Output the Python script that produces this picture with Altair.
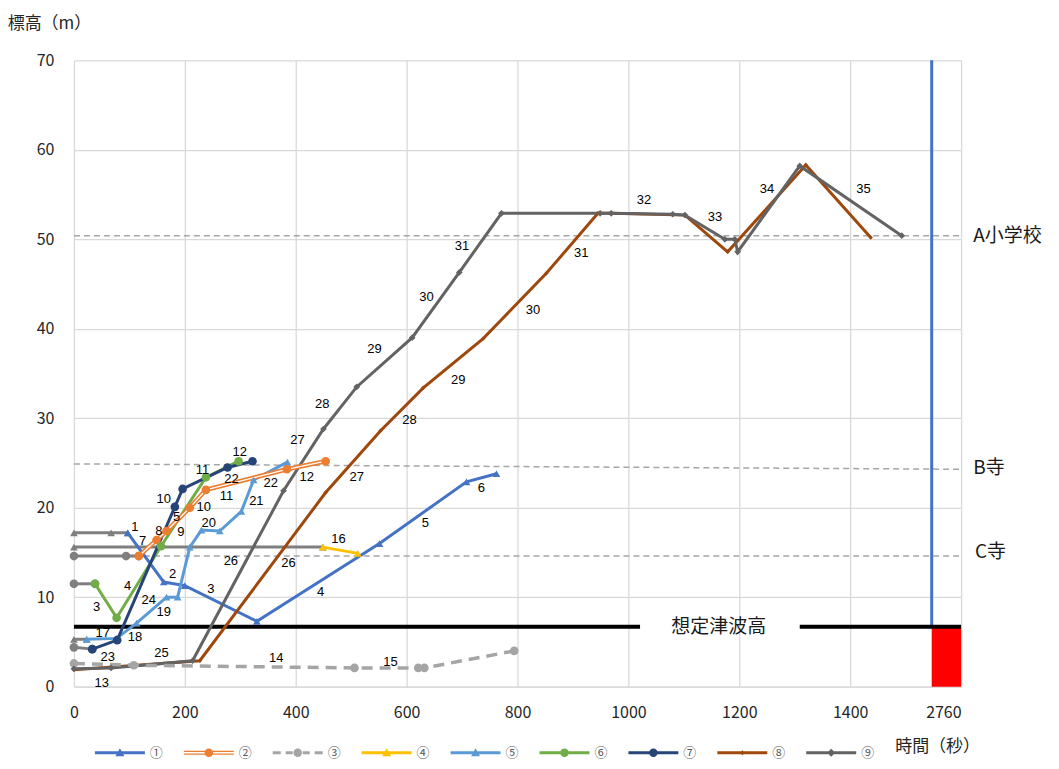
import altair as alt
import pandas as pd

SERIES = ["①", "②", "③", "④", "⑤", "⑥", "⑦", "⑧", "⑨"]
COLORS = ["#4472C4", "#ED7D31", "#A5A5A5", "#FFC000", "#5B9BD5",
          "#70AD47", "#264478", "#9E480E", "#636363"]
PREFIX_GRAY = "#7F7F7F"

# waiting (gray) part of each route: time (s), elevation (m)
S1_PRE_T = [0, 67, 97]
S1_PRE_H = [17.2, 17.2, 17.2]
S2_PRE_T = [0, 94, 117]
S2_PRE_H = [14.6, 14.6, 14.6]
S4_PRE_T = [0, 449]
S4_PRE_H = [15.6, 15.6]
S5_PRE_T = [0, 23]
S5_PRE_H = [5.3, 5.3]
S6_PRE_T = [0, 38]
S6_PRE_H = [11.5, 11.5]
S7_PRE_T = [0, 33]
S7_PRE_H = [4.4, 4.2]

# moving part of each route
S1_T = [97, 162, 200, 330, 551, 708, 762]
S1_H = [17.2, 11.7, 11.3, 7.3, 16.0, 22.9, 23.8]
S2_T = [117, 149, 167, 209, 238, 384, 454]
S2_H = [14.6, 16.4, 17.4, 20.0, 22.0, 24.3, 25.2]
S3_T = [0, 108, 506, 621, 632, 794]
S3_H = [2.6, 2.4, 2.1, 2.1, 2.1, 4.0]
S4_T = [449, 512]
S4_H = [15.6, 14.9]
S5_T = [23, 77, 113, 167, 187, 209, 230, 263, 302, 324, 385]
S5_H = [5.3, 5.4, 7.1, 10.0, 10.0, 15.6, 17.5, 17.4, 19.6, 23.1, 25.1]
S6_T = [38, 77, 157, 238, 297]
S6_H = [11.5, 7.7, 15.7, 23.4, 25.2]
S7_T = [33, 78, 182, 196, 277, 322]
S7_H = [4.2, 5.2, 20.1, 22.1, 24.5, 25.2]
S8_T = [0, 227, 454, 553, 630, 738, 852, 945, 969, 1102, 1179, 1320, 1437]
S8_H = [1.9, 2.9, 21.7, 28.6, 33.4, 38.9, 46.2, 52.9, 52.9, 52.7, 48.6, 58.3, 50.2]
S9_T = [0, 67, 214, 378, 450, 510, 610, 695, 771, 949, 969, 1080, 1102,
        1174, 1192, 1197, 1309, 1493]
S9_H = [2.0, 2.1, 2.9, 21.9, 28.8, 33.5, 39.0, 46.3, 52.9, 52.9, 52.9, 52.8,
        52.7, 50.0, 50.0, 48.6, 58.2, 50.4]

# segment number labels
LABEL_TEXT = ["1", "7", "8", "5", "9", "10", "10", "11", "11", "12", "22", "22",
              "12", "20", "21", "2", "3", "4", "3", "24", "19", "18", "17", "23",
              "25", "13", "14", "15", "16", "26", "26", "27", "27", "28", "28",
              "29", "29", "30", "30", "31", "31", "32", "33", "34", "35", "4",
              "5", "6"]
LABEL_T = [110, 124, 153, 185, 193, 162, 234, 232, 275, 299, 284, 355,
           420, 243, 329, 178, 247, 97, 41, 135, 162, 110, 52, 61,
           158, 50, 365, 571, 477, 283, 387, 403, 510, 448, 605,
           542, 693, 636, 828, 700, 915, 1028, 1156, 1250, 1424, 445,
           634, 735]
LABEL_H = [17.8, 16.3, 17.4, 19.0, 17.3, 21.0, 20.1, 24.2, 21.3, 26.2, 23.2, 22.8,
           23.4, 18.3, 20.8, 12.6, 10.9, 11.2, 8.9, 9.7, 8.4, 5.5, 6.0, 3.3,
           3.8, 0.4, 3.2, 2.8, 16.5, 14.0, 13.8, 27.6, 23.4, 31.6, 29.8,
           37.7, 34.3, 43.5, 42.1, 49.2, 48.5, 54.4, 52.5, 55.6, 55.6, 10.6,
           18.3, 22.2]

# reference (destination) levels
REF_NAMES = ["A小学校", "B寺", "C寺"]
REF_H_LEFT = [50.4, 24.9, 14.6]
REF_H_RIGHT = [50.4, 24.3, 14.6]
REF_LABEL_H = [50.35, 24.45, 15.1]
TSUNAMI_H = 6.7
TSUNAMI_TEXT = "想定津波高"
X_TICKS = [0, 200, 400, 600, 800, 1000, 1200, 1400, 1600]
X_MAX = 1600
LIMIT_T = 1547   # position of the "2760" limit marker

pre = {"①": (S1_PRE_T, S1_PRE_H), "②": (S2_PRE_T, S2_PRE_H), "④": (S4_PRE_T, S4_PRE_H),
       "⑤": (S5_PRE_T, S5_PRE_H), "⑥": (S6_PRE_T, S6_PRE_H), "⑦": (S7_PRE_T, S7_PRE_H)}
main = {"①": (S1_T, S1_H), "②": (S2_T, S2_H), "③": (S3_T, S3_H), "④": (S4_T, S4_H),
        "⑤": (S5_T, S5_H), "⑥": (S6_T, S6_H), "⑦": (S7_T, S7_H), "⑧": (S8_T, S8_H),
        "⑨": (S9_T, S9_H)}


def frame(d):
    rows = []
    for s, (ts, hs) in d.items():
        for i, (t, h) in enumerate(zip(ts, hs)):
            rows.append({"series": s, "t": t, "h": h, "i": i})
    return pd.DataFrame(rows)


pre_df = frame(pre)
main_df = frame(main)
lab_df = pd.DataFrame({"txt": LABEL_TEXT, "t": LABEL_T, "h": LABEL_H})
ref_rows = []
for n, hl, hr in zip(REF_NAMES, REF_H_LEFT, REF_H_RIGHT):
    ref_rows.append({"name": n, "t": 0, "h": hl})
    ref_rows.append({"name": n, "t": X_MAX, "h": hr})
ref_df = pd.DataFrame(ref_rows)
ref_lab_df = pd.DataFrame({"name": REF_NAMES, "t": [1622, 1622, 1625], "h": REF_LABEL_H})

FONT_JP = "Noto Sans CJK JP"

x_axis = alt.Axis(values=X_TICKS, grid=True, gridColor="#D9D9D9", gridWidth=1.3,
                  domainColor="#D9D9D9", domainWidth=1.3, ticks=False,
                  labelExpr="datum.value == 1600 ? '2760' : format(datum.value, 'd')",
                  labelAlign={"condition": {"test": "datum.value == 1600", "value": "right"},
                              "value": "center"},
                  labelFont=FONT_JP, labelFontSize=16, labelColor="#262626", labelPadding=18,
                  title="時間（秒）", titleFont=FONT_JP, titleFontSize=17,
                  titleFontWeight="normal", titleColor="#262626",
                  titleX=864, titleY=60, titleAlign="center", titleBaseline="middle")
y_axis = alt.Axis(values=list(range(0, 71, 10)), grid=True, gridColor="#D9D9D9", gridWidth=1.3,
                  domain=False, ticks=False, labelFont=FONT_JP, labelFontSize=16,
                  labelColor="#262626", labelPadding=20,
                  title="標高（m）", titleFont=FONT_JP, titleFontSize=17,
                  titleFontWeight="normal", titleColor="#262626", titleAngle=0,
                  titleX=-25, titleY=-37, titleAlign="center", titleBaseline="middle")

X = alt.X("t:Q", scale=alt.Scale(domain=[0, X_MAX], nice=False), axis=x_axis)
Y = alt.Y("h:Q", scale=alt.Scale(domain=[0, 70], nice=False), axis=y_axis)
COL = alt.Color("series:N", scale=alt.Scale(domain=SERIES, range=COLORS), legend=None)

# legend symbols: line + marker (custom paths)
BAR = "M-1,-0.06H1V0.06H-1Z"
TRI_P = "M0,-0.18L0.18,0.14L-0.18,0.14Z"
CIRC_P = "M0.17,0A0.17,0.17 0 1,1 -0.17,0A0.17,0.17 0 1,1 0.17,0Z"
DIA_P = "M0,-0.16L0.16,0L0,0.16L-0.16,0Z"
DIA_S = "M0,-0.1L0.1,0L0,0.1L-0.1,0Z"
DOUBLE = "M-1,-0.08H1V0.08H-1Z M-1,-0.03V0.03H1V-0.03Z"
DASHED = ("M-1,-0.06H-0.68V0.06H-1Z M-0.48,-0.06H-0.2V0.06H-0.48Z "
          "M0.2,-0.06H0.48V0.06H0.2Z M0.68,-0.06H1V0.06H0.68Z")
LEG_PATHS = [BAR + " " + TRI_P, DOUBLE + " " + CIRC_P, DASHED + " " + CIRC_P,
             BAR + " " + TRI_P, BAR + " " + TRI_P, BAR + " " + CIRC_P,
             BAR + " " + CIRC_P, BAR + " " + DIA_S, BAR + " " + DIA_P]

leg = alt.Legend(orient="none", legendX=21, legendY=668, direction="horizontal", columns=9,
                 title=None, symbolSize=2500, symbolStrokeWidth=0, labelFont=FONT_JP,
                 labelFontSize=13, labelColor="#595959", labelOffset=5, columnPadding=20,
                 padding=0, labelBaseline="middle")
legend_layer = alt.Chart(pd.DataFrame({"series": SERIES, "t": [0] * 9, "h": [0] * 9})).transform_filter(
    "false").mark_point(filled=True, opacity=1).encode(
    x=X, y=Y,
    color=alt.Color("series:N", scale=alt.Scale(domain=SERIES, range=COLORS), legend=leg),
    shape=alt.Shape("series:N", scale=alt.Scale(domain=SERIES, range=LEG_PATHS), legend=leg))

# reference dashed lines
ref_lines = alt.Chart(ref_df).mark_line(color="#A6A6A6", strokeWidth=1.5,
                                        strokeDash=[6, 4]).encode(x=X, y=Y, detail="name:N")

# tsunami level
ts_df = pd.DataFrame({"t": [0, 1309], "t2": [1021, X_MAX], "h": [TSUNAMI_H, TSUNAMI_H]})
ts_line = alt.Chart(ts_df).mark_rule(color="black", strokeWidth=4).encode(
    x=X, x2=alt.X2("t2"), y=Y)
ts_text = alt.Chart(pd.DataFrame({"txt": [TSUNAMI_TEXT], "t": [1163], "h": [TSUNAMI_H]})).mark_text(
    font=FONT_JP, fontSize=19, color="#1a1a1a", baseline="middle").encode(x=X, y=Y, text="txt:N")

limit_rect = alt.Chart(pd.DataFrame({"t": [LIMIT_T], "t2": [X_MAX], "h": [0], "h2": [TSUNAMI_H]})).mark_rect(
    color="#FF0000").encode(x=X, x2=alt.X2("t2"), y=Y, y2=alt.Y2("h2"))
limit_line = alt.Chart(pd.DataFrame({"t": [LIMIT_T], "h": [TSUNAMI_H], "h2": [70]})).mark_rule(
    color="#4472C4", strokeWidth=3).encode(x=X, y=Y, y2=alt.Y2("h2"))

# gray waiting parts
pre_lines = alt.Chart(pre_df).mark_line(color=PREFIX_GRAY, strokeWidth=3).encode(
    x=X, y=Y, detail="series:N", order="i:Q")

TRI = ["①", "④", "⑤"]
CIR = ["②", "③", "⑥", "⑦"]


def markers(df, members, shape, size, gray):
    ch = alt.Chart(df).transform_filter(alt.FieldOneOfPredicate(field="series", oneOf=members))
    if gray:
        return ch.mark_point(shape=shape, size=size, filled=True, opacity=1,
                             color=PREFIX_GRAY).encode(x=X, y=Y)
    return ch.mark_point(shape=shape, size=size, filled=True, opacity=1).encode(x=X, y=Y, color=COL)


pre_marks = [markers(pre_df, TRI, "triangle-up", 60, True),
             markers(pre_df, CIR, "circle", 75, True)]

solid = [s for s in SERIES if s not in ("②", "③")]
main_lines = alt.Chart(main_df).transform_filter(
    alt.FieldOneOfPredicate(field="series", oneOf=solid)).mark_line(strokeWidth=3).encode(
    x=X, y=Y, color=COL, detail="series:N", order="i:Q")
s2_outer = alt.Chart(main_df).transform_filter(alt.datum.series == "②").mark_line(
    strokeWidth=4.5).encode(x=X, y=Y, color=COL, order="i:Q")
s2_inner = alt.Chart(main_df).transform_filter(alt.datum.series == "②").mark_line(
    strokeWidth=1.3, color="white").encode(x=X, y=Y, order="i:Q")
s3_line = alt.Chart(main_df).transform_filter(alt.datum.series == "③").mark_line(
    strokeWidth=3.5, strokeDash=[11, 7]).encode(x=X, y=Y, color=COL, order="i:Q")

main_marks = [markers(main_df, TRI, "triangle-up", 60, False),
              markers(main_df, CIR, "circle", 75, False),
              markers(main_df, ["⑧"], "diamond", 20, False),
              markers(main_df, ["⑨"], "diamond", 45, False)]

labels = alt.Chart(lab_df).mark_text(font="Liberation Sans", fontSize=13, color="black").encode(
    x=X, y=Y, text="txt:N")
ref_labels = alt.Chart(ref_lab_df).mark_text(font=FONT_JP, fontSize=19, color="#1a1a1a",
                                             align="left", baseline="middle").encode(
    x=X, y=Y, text="name:N")

chart = alt.layer(
    legend_layer,
    ref_lines, limit_rect, limit_line, ts_line, ts_text,
    pre_lines, *pre_marks,
    main_lines, s2_outer, s2_inner, s3_line, *main_marks,
    labels, ref_labels
).properties(
    width=888, height=627,
    padding={"left": 66, "top": 52, "right": 90, "bottom": 74},
    autosize=alt.AutoSizeParams(type="none"),
    background="white"
).configure_view(stroke=None)

chart.save("out.html", embed_options={"renderer": "svg", "actions": False})
